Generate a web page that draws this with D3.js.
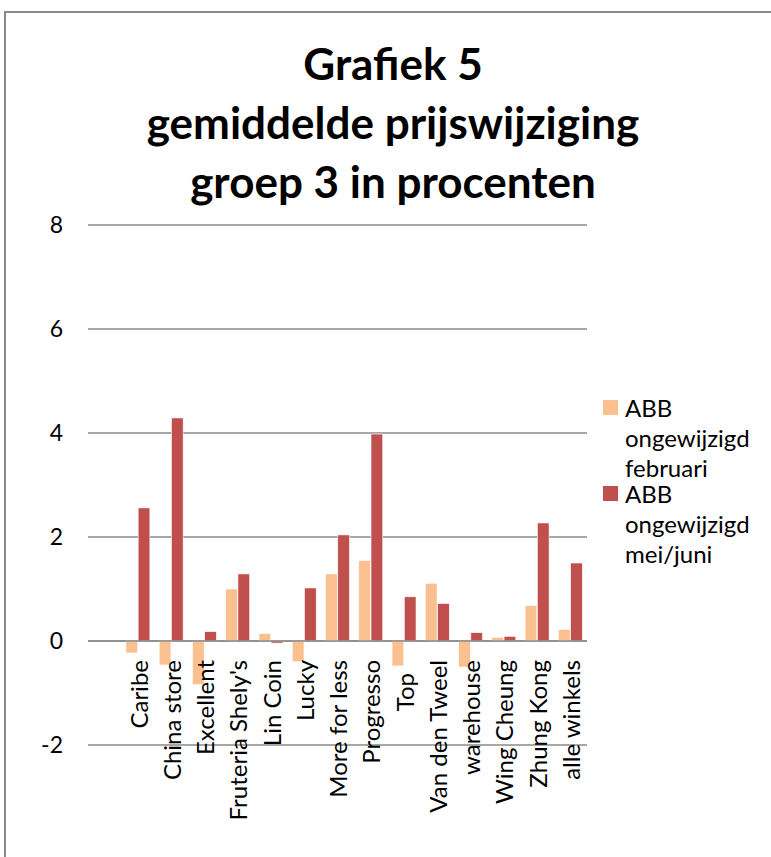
<!DOCTYPE html>
<html>
<head>
<meta charset="utf-8">
<script src="https://cdn.jsdelivr.net/npm/d3@7"></script>
<style>
body { margin: 0; background: #fff; }
text { font-family: Lato, "Open Sans", sans-serif; fill: #000; }
</style>
</head>
<body>
<script>
var categories = ["Caribe", "China store", "Excellent", "Fruteria Shely's", "Lin Coin", "Lucky", "More for less", "Progresso", "Top", "Van den Tweel", "warehouse", "Wing Cheung", "Zhung Kong", "alle winkels"];
var februari = [-0.23, -0.46, -0.84, 1.0, 0.14, -0.4, 1.29, 1.55, -0.48, 1.11, -0.5, 0.07, 0.68, 0.22];
var meiJuni = [2.56, 4.29, 0.18, 1.29, -0.04, 1.02, 2.04, 3.98, 0.85, 0.72, 0.16, 0.09, 2.27, 1.5];
var yTicks = [-2, 0, 2, 4, 6, 8];
var series = ["ABB ongewijzigd februari", "ABB ongewijzigd mei/juni"];
var titleLines = ["Grafiek 5", "gemiddelde prijswijziging", "groep 3 in procenten"];

var W = 771, H = 857,
    plot = {left: 88, right: 587, top: 225, bottom: 745},
    colors = ["#FAC08F", "#C0504D"];

var svg = d3.select("body").append("svg").attr("width", W).attr("height", H);

// outer chart border
svg.append("rect").attr("x", 5).attr("y", 12).attr("width", W + 10).attr("height", H + 10)
  .attr("fill", "none").attr("stroke", "#878787").attr("stroke-width", 2);

// title
svg.append("g").selectAll("text").data(titleLines).enter().append("text")
  .text(function(d){ return d })
  .attr("x", 393).attr("y", function(d, i){ return 80 + i * 59 })
  .attr("text-anchor", "middle").attr("font-size", 44).attr("font-weight", "bold");

var y = d3.scaleLinear().domain([-2, 8]).range([plot.bottom, plot.top]);

// first slot of the category axis is empty in the original
var x = d3.scaleBand().domain([""].concat(categories)).range([plot.left, plot.right]).paddingInner(0.25).paddingOuter(0.125);
var xs = d3.scaleBand().domain([0, 1]).range([0, x.bandwidth()]).padding(0.04);

// gridlines
svg.append("g").selectAll("line").data(yTicks).enter().append("line")
  .attr("x1", plot.left).attr("x2", plot.right)
  .attr("y1", function(d){ return y(d) }).attr("y2", function(d){ return y(d) })
  .attr("stroke", "#8a8a8a").attr("stroke-width", 1.3);

// y labels
svg.append("g").selectAll("text").data(yTicks).enter().append("text")
  .text(function(d){ return d })
  .attr("x", 63).attr("y", function(d){ return y(d) })
  .attr("dy", "0.36em").attr("text-anchor", "end").attr("font-size", 23);

// bars
[februari, meiJuni].forEach(function(vals, s){
  svg.append("g").selectAll("rect").data(vals).enter().append("rect")
    .attr("x", function(d, i){ return x(categories[i]) + xs(s) })
    .attr("width", xs.bandwidth())
    .attr("y", function(d){ return y(Math.max(0, d)) })
    .attr("height", function(d){ return Math.abs(y(d) - y(0)) })
    .attr("fill", colors[s]).attr("stroke", "#fff").attr("stroke-width", 0.6);
});

// zero line on top of bars
svg.append("line").attr("x1", plot.left).attr("x2", plot.right)
  .attr("y1", y(0)).attr("y2", y(0)).attr("stroke", "#8a8a8a").attr("stroke-width", 1.3);

// category labels
svg.append("g").selectAll("text").data(categories).enter().append("text")
  .text(function(d){ return d })
  .attr("transform", function(d){ return "translate(" + (x(d) + x.bandwidth() / 2 + 1) + "," + (d === "Top" ? 673 : 660) + ") rotate(-90)" })
  .attr("dy", "0.36em").attr("text-anchor", "end").attr("font-size", 24);

// legend
var legendLines = [["ABB", "ongewijzigd", "februari"], ["ABB", "ongewijzigd", "mei/juni"]];
var lg = svg.append("g").selectAll("g").data(legendLines).enter().append("g")
  .attr("transform", function(d, i){ return "translate(603," + (400 + i * 86) + ")" });
lg.append("rect").attr("width", 15).attr("height", 15).attr("fill", function(d, i){ return colors[i] });
lg.each(function(lines){
  d3.select(this).selectAll("text").data(lines).enter().append("text")
    .text(function(t){ return t })
    .attr("x", 22).attr("y", function(t, j){ return 17 + j * 30 })
    .attr("font-size", 24);
});
</script>
</body>
</html>
